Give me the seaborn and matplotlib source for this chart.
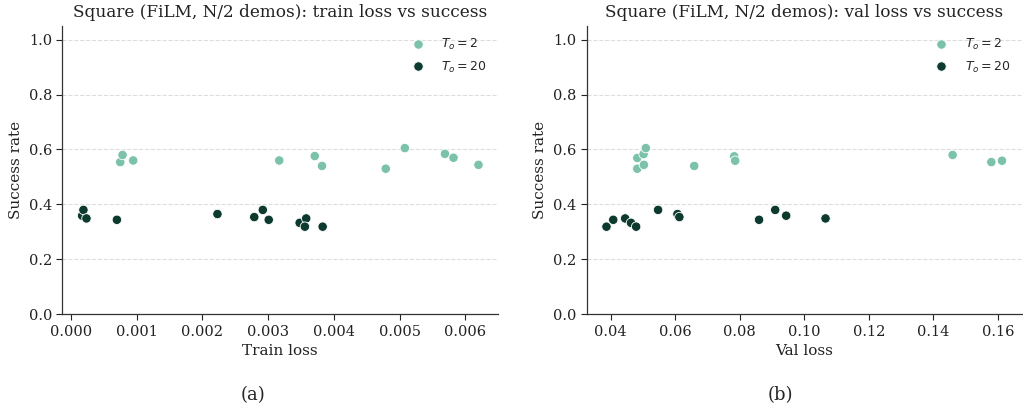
import matplotlib
matplotlib.use("Agg")
import matplotlib.pyplot as plt
import seaborn as sns
import pandas as pd

# Square task, FiLM conditioning, N/2 demos
groups = ["$T_o = 2$", "$T_o = 20$"]
palette = {"$T_o = 2$": "#7cc2aa", "$T_o = 20$": "#0d3a2f"}

# T_o = 2 runs
train_loss_to2 = [0.000752, 0.000787, 0.000949, 0.00317, 0.00371, 0.00382,
                  0.00479, 0.00508, 0.00569, 0.00582, 0.00620]
train_succ_to2 = [0.554, 0.580, 0.560, 0.560, 0.576, 0.540,
                  0.530, 0.605, 0.584, 0.570, 0.544]
val_loss_to2 = [0.04825, 0.04825, 0.0502, 0.0503, 0.0509, 0.0659,
                0.0783, 0.0786, 0.1460, 0.1580, 0.1613]
val_succ_to2 = [0.569, 0.530, 0.583, 0.544, 0.605, 0.540,
                0.575, 0.559, 0.580, 0.554, 0.559]

# T_o = 20 runs
train_loss_to20 = [0.000172, 0.000192, 0.000238, 0.000701, 0.00223, 0.00279,
                   0.00292, 0.00301, 0.00348, 0.00358, 0.00356, 0.00383]
train_succ_to20 = [0.359, 0.380, 0.349, 0.344, 0.365, 0.354,
                   0.380, 0.344, 0.333, 0.349, 0.319, 0.319]
val_loss_to20 = [0.0387, 0.0408, 0.0445, 0.0463, 0.0479, 0.0547,
                 0.0607, 0.0613, 0.0860, 0.0910, 0.0944, 0.1066]
val_succ_to20 = [0.319, 0.344, 0.349, 0.333, 0.319, 0.380,
                 0.365, 0.354, 0.344, 0.380, 0.359, 0.349]

train_df = pd.DataFrame({
    "loss": train_loss_to2 + train_loss_to20,
    "success": train_succ_to2 + train_succ_to20,
    "group": [groups[0]] * len(train_loss_to2) + [groups[1]] * len(train_loss_to20),
})
val_df = pd.DataFrame({
    "loss": val_loss_to2 + val_loss_to20,
    "success": val_succ_to2 + val_succ_to20,
    "group": [groups[0]] * len(val_loss_to2) + [groups[1]] * len(val_loss_to20),
})

sns.set_theme(style="ticks")
plt.rcParams["font.family"] = ["DejaVu Serif"]
plt.rcParams["mathtext.fontset"] = "dejavusans"

fig = plt.figure(figsize=(10.23, 4.08), dpi=100)
ax1 = fig.add_axes([0.0609, 0.2296, 0.4262, 0.7071])
ax2 = fig.add_axes([0.5735, 0.2296, 0.4253, 0.7071])

panels = [
    (ax1, train_df, "Square (FiLM, N/2 demos): train loss vs success", "Train loss", "(a)", 253),
    (ax2, val_df, "Square (FiLM, N/2 demos): val loss vs success", "Val loss", "(b)", 780),
]

for ax, df, title, xlabel, tag, tag_x in panels:
    sns.scatterplot(data=df, x="loss", y="success", hue="group", hue_order=groups,
                    palette=palette, s=46, edgecolor="white", linewidth=0.6, ax=ax,
                    zorder=3)
    ax.set_ylim(0, 1.05)
    ax.set_yticks([0.0, 0.2, 0.4, 0.6, 0.8, 1.0])
    ax.grid(axis="y", linestyle="--", color="#dddddd", linewidth=0.8)
    ax.set_axisbelow(True)
    ax.set_title(title, fontsize=12.2, color="#222222", pad=6)
    ax.set_xlabel(xlabel, fontsize=11, color="#222222")
    ax.set_ylabel("Success rate", fontsize=11, color="#222222")
    ax.tick_params(labelsize=10.5, colors="#222222", length=4, width=0.8)
    for side in ("left", "bottom"):
        ax.spines[side].set_color("#333333")
        ax.spines[side].set_linewidth(0.9)
    sns.despine(ax=ax)
    ax.legend(loc="upper right", frameon=False, fontsize=9, title=None,
              handletextpad=0.9, labelspacing=0.6)
    fig.text(tag_x / 1023, 1 - 395 / 408, tag, ha="center", va="center", fontsize=13)

ax1.set_xticks([0.000, 0.001, 0.002, 0.003, 0.004, 0.005, 0.006])
ax1.xaxis.set_major_formatter(matplotlib.ticker.FormatStrFormatter("%.3f"))
ax2.set_xticks([0.04, 0.06, 0.08, 0.10, 0.12, 0.14, 0.16])
ax2.xaxis.set_major_formatter(matplotlib.ticker.FormatStrFormatter("%.2f"))

fig.savefig("out.png", dpi=100)
